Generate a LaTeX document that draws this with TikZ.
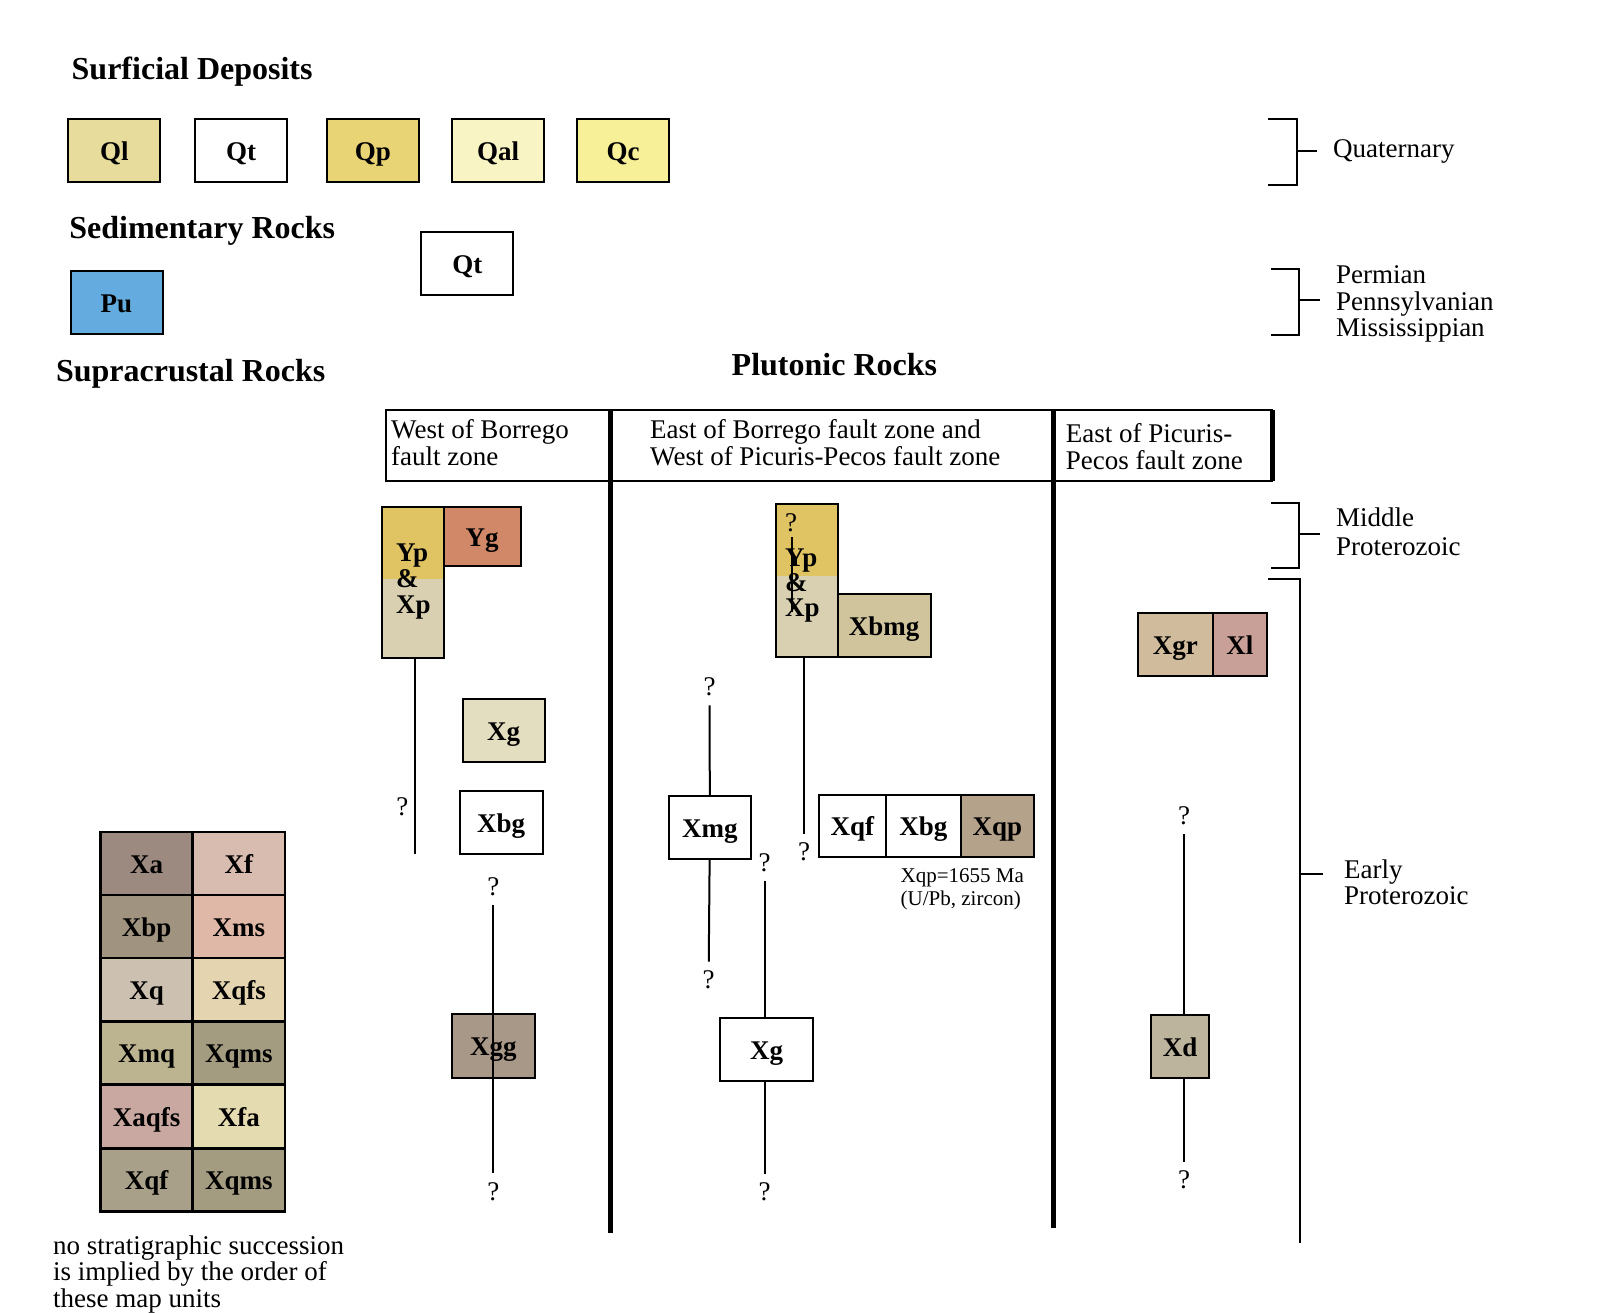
\documentclass[tikz,border=0pt]{standalone}
\usepackage{fontspec}
\setmainfont{Liberation Serif}
\usetikzlibrary{positioning}
\definecolor{qlcol}{HTML}{E8DC9C}
\definecolor{qpcol}{HTML}{E8D474}
\definecolor{qalcol}{HTML}{F8F4C4}
\definecolor{qccol}{HTML}{F8F098}
\definecolor{pucol}{HTML}{64ACE0}
\definecolor{ypcol}{HTML}{E0C464}
\definecolor{xpcol}{HTML}{D8D0B0}
\definecolor{ygcol}{HTML}{D08868}
\definecolor{xgcol}{HTML}{E4DEC0}
\definecolor{xggcol}{HTML}{A89888}
\definecolor{xbmgcol}{HTML}{D0C49C}
\definecolor{xqpcol}{HTML}{B4A28A}
\definecolor{xgrcol}{HTML}{D0BC9C}
\definecolor{xlcol}{HTML}{C8A098}
\definecolor{xdcol}{HTML}{BCB49C}
\definecolor{xacol}{HTML}{9C8A80}
\definecolor{xfcol}{HTML}{D8BCB0}
\definecolor{xbpcol}{HTML}{A09480}
\definecolor{xmscol}{HTML}{E0B8A8}
\definecolor{xqcol}{HTML}{CCC0B0}
\definecolor{xqfscol}{HTML}{E4D4B0}
\definecolor{xmqcol}{HTML}{BCB490}
\definecolor{xqmscol}{HTML}{A49C80}
\definecolor{xaqfscol}{HTML}{C8A8A0}
\definecolor{xfacol}{HTML}{E4DCB0}
\definecolor{xqfcol}{HTML}{A8A088}

\begin{document}
\begin{tikzpicture}[
	x=1pt, y=-1pt,
	unit/.style={rectangle,draw,line width=2pt,inner sep=0pt,outer sep=0pt,
		text height=19.5pt,text depth=0pt,
		font=\fontsize{27}{27}\selectfont\bfseries},
	qbox/.style={unit,minimum width=92,minimum height=63},
	cell/.style={unit,line width=2.5pt,minimum width=92,minimum height=63.3},
	qmark/.style={inner sep=9pt,font=\fontsize{27}{27}\selectfont},
	link/.style={line width=2pt},
	fault/.style={line width=5pt},
	sectitle/.style={anchor=base west,inner sep=0pt,font=\fontsize{32}{32}\selectfont\bfseries},
	txt/.style={anchor=base west,align=left,inner sep=0pt,font=\fontsize{27}{26.7}\selectfont},
	]
\useasboundingbox (0,0) rectangle (1602,1313);

\node [sectitle] (surf) at (71.5,80) {Surficial Deposits};
\node [qbox,fill=qlcol] (ql) at (114.3,150.7) {Ql};
\node [qbox] (qt) at (241,150.7) {Qt};
\node [qbox,fill=qpcol] (qp) at (372.8,150.7) {Qp};
\node [qbox,fill=qalcol] (qal) at (498,150.7) {Qal};
\node [qbox,fill=qccol] (qc) at (623.2,150.7) {Qc};

\node [sectitle] (sedi) at (69.2,239) {Sedimentary Rocks};
\node [qbox] (qt2) at (467.4,263.4) {Qt};
\node [qbox,fill=pucol] (pu) at (116.5,302.5) {Pu};

\node [sectitle] (supra) at (55.8,381.7) {Supracrustal Rocks};
\node [sectitle] (pluto) at (731.5,375) {Plutonic Rocks};

\node [cell,fill=xacol] (xa) at (146.7,863.4) {Xa};
\node [cell,fill=xfcol] (xf) at (238.9,863.4) {Xf};
\node [cell,fill=xbpcol] (xbp) at (146.7,926.7) {Xbp};
\node [cell,fill=xmscol] (xms) at (238.9,926.7) {Xms};
\node [cell,fill=xqcol] (xq) at (146.7,989.7) {Xq};
\node [cell,fill=xqfscol] (xqfs) at (238.9,989.7) {Xqfs};
\node [cell,fill=xmqcol] (xmq) at (146.7,1053) {Xmq};
\node [cell,fill=xqmscol] (xqms) at (238.9,1053) {Xqms};
\node [cell,fill=xaqfscol] (xaqfs) at (146.7,1116.7) {Xaqfs};
\node [cell,fill=xfacol] (xfa) at (238.9,1116.7) {Xfa};
\node [cell,fill=xqfcol] (xqf1) at (146.7,1180) {Xqf};
\node [cell,fill=xqmscol] (xqms2) at (238.9,1180) {Xqms};
\node [txt] (note) at (53,1307.4) {no stratigraphic succession\\is implied by the order of\\these map units};

\coordinate (hnw) at (386,410);
\coordinate (hse) at (1272,481);
\draw [line width=2.5pt] (hnw) rectangle (hse);
\draw [fault] (hse) -- (hse |- hnw);
\coordinate (f1top) at (610,410);
\coordinate (f1bot) at (610,1233);
\coordinate (f2top) at (1053,410);
\coordinate (f2bot) at (1053,1228);
\draw [fault] (f1top) -- (f1bot);
\draw [fault] (f2top) -- (f2bot);
\node [txt] (hwest) at (391,465) {West of Borrego\\fault zone};
\node [txt] (hmid) at (650,465) {East of Borrego fault zone and\\West of Picuris-Pecos fault zone};
\node [txt] (heast) at (1065.6,469) {East of Picuris-\\Pecos fault zone};

\node [unit,fill=xpcol,minimum width=61.3,minimum height=151.6,
  path picture={\fill [ypcol] (path picture bounding box.north west) rectangle ([yshift=-72.3pt]path picture bounding box.north east);}] (ypxpw) at (412.9,582.5) {};
\node [txt,font=\fontsize{27}{25.8}\selectfont\bfseries] (ypxpwt) at (396,613.3) {Yp\\\&\\Xp};
\node [unit,fill=ygcol,minimum width=77.3,minimum height=59.3,anchor=north west] (yg) at (ypxpw.north east) {Yg};
\coordinate (wend) at (414.5,853.5);
\draw [link] (ypxpw.south -| wend) -- (wend);
\node [qmark] (wq1) at (402.3,806.3) {?};
\node [unit,fill=xgcol,minimum width=81.8,minimum height=63] (xg1) at (503.7,730.5) {Xg};
\node [unit,minimum width=82.9,minimum height=62.8] (xbg1) at (501.2,822.3) {Xbg};
\node [unit,fill=xggcol,minimum width=82.5,minimum height=63.5] (xgg) at (493.3,1045.8) {Xgg};
\node [qmark] (wq2) at (493.4,886.5) {?};
\node [qmark] (wq3) at (493.4,1191.5) {?};
\draw [link] (wq2) -- (wq3);

\node [unit,fill=xpcol,minimum width=61.3,minimum height=152.7,
  path picture={\fill [ypcol] (path picture bounding box.north west) rectangle ([yshift=-71.7pt]path picture bounding box.north east);}] (ypxpm) at (807,580.4) {};
\node [txt,font=\fontsize{27}{25.3}\selectfont\bfseries] (ypxpmt) at (785,616.6) {Yp\\\&\\Xp};
\node [qmark,inner sep=5pt] (mq0) at (791,523) {?};
\coordinate (mq0end) at (792,612);
\draw [link] (mq0.south -| mq0end) -- (mq0end);
\node [unit,fill=xbmgcol,minimum width=92.9,minimum height=62.4,anchor=south west] (xbmg) at (ypxpm.south east) {Xbmg};
\node [qmark] (mq1) at (804,852) {?};
\draw [link] (ypxpm.south -| mq1) -- (mq1);
\node [unit,minimum width=82.3,minimum height=63.2] (xmg) at (709.9,827.4) {Xmg};
\node [qmark] (mq2) at (709.5,687) {?};
\node [qmark] (mq3) at (708.6,980) {?};
\draw [link] (mq2) -- (xmg);
\draw [link] (xmg) -- (mq3);
\node [unit,minimum width=93,minimum height=62.7] (xg2) at (766.5,1049.4) {Xg};
\node [qmark] (mq4) at (764.6,862.5) {?};
\node [qmark] (mq5) at (764.6,1192) {?};
\draw [link] (mq4) -- (mq4 |- xg2.north);
\draw [link] (xg2.south -| mq5) -- (mq5);
\node [unit,minimum width=66.7,minimum height=62.5] (xqf2) at (852.4,826) {Xqf};
\node [unit,minimum width=75.3,minimum height=62.5,right=0pt of xqf2] (xbg2) {Xbg};
\node [unit,fill=xqpcol,minimum width=72.7,minimum height=62.5,right=0pt of xbg2] (xqp) {Xqp};
\node [txt,font=\fontsize{21}{23}\selectfont] (xqpage) at (900.5,905.8) {Xqp=1655 Ma\\(U/Pb, zircon)};

\node [unit,fill=xgrcol,minimum width=74.8,minimum height=63.4] (xgr) at (1175.4,644.7) {Xgr};
\node [unit,fill=xlcol,minimum width=54.2,minimum height=63.4,right=0pt of xgr] (xl) {Xl};
\node [unit,fill=xdcol,minimum width=57.5,minimum height=63] (xd) at (1180.2,1046.5) {Xd};
\node [qmark] (eq1) at (1184,816) {?};
\node [qmark] (eq2) at (1184,1180) {?};
\draw [link] (eq1) -- (eq1 |- xd.north);
\draw [link] (xd.south -| eq2) -- (eq2);

\draw [link] (1268,119) -| (1297,185) -- (1268,185);
\draw [link] (1297,151) -- (1317,151);
\node [txt] (quat) at (1333,158) {Quaternary};
\draw [link] (1271,269) -| (1299,335) -- (1271,335);
\draw [link] (1299,300) -- (1320,300);
\node [txt] (perm) at (1336,336.7) {Permian\\Pennsylvanian\\Mississippian};
\draw [link] (1271,503) -| (1299,568) -- (1271,568);
\draw [link] (1299,534) -- (1320,534);
\node [txt,font=\fontsize{27}{28.3}\selectfont] (midp) at (1336,555) {Middle\\Proterozoic};
\draw [link] (1268,579) -- (1300,579) -- (1300,1243);
\draw [link] (1300,873.6) -- (1322.8,873.6);
\node [txt] (earlyp) at (1344,904.7) {Early\\Proterozoic};
\end{tikzpicture}
\end{document}
